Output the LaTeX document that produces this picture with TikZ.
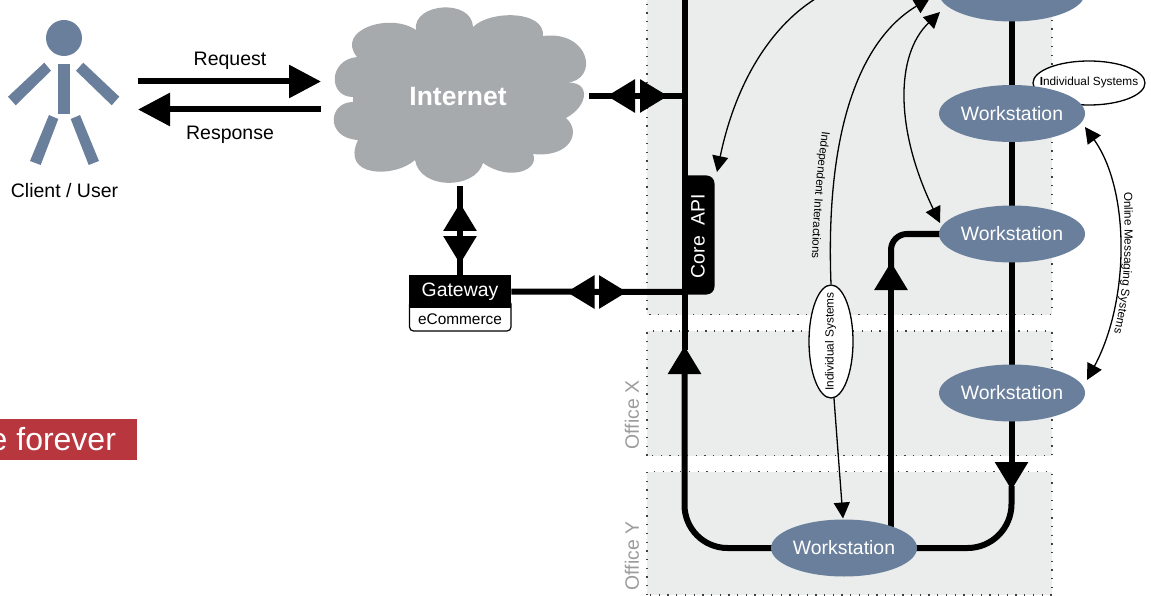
\documentclass[tikz,border=0pt]{standalone}
\usepackage{fontspec}
\setmainfont{Liberation Sans}
\usetikzlibrary{arrows.meta,shapes.geometric,decorations.text}
\definecolor{figblue}{HTML}{6A7F9C}
\definecolor{panelgray}{HTML}{EBEDEC}
\definecolor{cloudgray}{HTML}{A7AAAC}
\definecolor{officegray}{HTML}{9B9B9B}
\definecolor{bannerred}{HTML}{B8363D}
\pgfdeclarelayer{panels}
\pgfdeclarelayer{edges}
\pgfsetlayers{panels,edges,main}
\newcommand{\fsz}[1]{\fontsize{#1}{#1}\selectfont}
\newcommand{\wst}{\raisebox{-0.7pt}{Workstation}}
\tikzset{
  heavy/.style={line width=6pt,draw=black},
  fathead/.tip={Triangle[length=28pt,width=32pt]},
  thinhead/.tip={Triangle[length=16pt,width=16pt]},
  thinline/.style={line width=1.3pt,draw=black},
  wstation/.style={ellipse,fill=figblue,text=white,inner sep=0pt,minimum width=146pt,minimum height=57pt,font=\fsz{19.4}},
  callout/.style={ellipse,draw=black,fill=white,line width=1.3pt,inner sep=0pt},
  calltext/.style={inner sep=0pt,font=\fsz{11.8}},
  panelbox/.style={fill=panelgray},
  dotline/.style={draw=black!75,line width=1.3pt,dash pattern=on 1.3pt off 7.4pt},
  lab/.style={inner sep=0pt,font=\fsz{19.5}},
  officelab/.style={inner sep=0pt,rotate=90,text=officegray,font=\fsz{19.4}},
  figpart/.style={fill=figblue},
}
\begin{document}
\begin{tikzpicture}[x=1pt,y=-1pt]
\useasboundingbox (0,0) rectangle (1151,596);
\clip (0,0) rectangle (1151,596);

% office panels
\begin{pgfonlayer}{panels}
  \fill[panelbox] (647,-5) rectangle (1052,314.5);
  \fill[panelbox] (647,331) rectangle (1052,455.5);
  \fill[panelbox] (647,471.5) rectangle (1052,595);
  \draw[dotline] (647,-5) -- (647,314.5) -- (1052,314.5) -- (1052,-5);
  \draw[dotline] (647,455.5) -- (647,331) -- (1052,331) -- (1052,455.5) -- cycle;
  \draw[dotline] (647,595) -- (647,471.5) -- (1052,471.5) -- (1052,595) -- cycle;
\end{pgfonlayer}

\node[officelab] (ofx) at (632,415) {Office X};
\node[officelab] (ofy) at (632,556) {Office Y};

% figure
\fill[figpart] (64,38) circle (18);
\fill[figpart] (58,64) rectangle (70,114);
\fill[figpart] (44.3,62.7) -- (51,70.7) -- (15.7,105.3) -- (8,96.7) -- cycle;
\fill[figpart] (83.3,62.7) -- (76,70.7) -- (111.7,105.3) -- (119.3,96.7) -- cycle;
\fill[figpart] (49,115) -- (58.3,119) -- (40.7,165) -- (30,161) -- cycle;
\fill[figpart] (80,115) -- (70.7,119) -- (88.7,165) -- (99,161) -- cycle;
\node[lab] (client) at (64.5,190.5) {Client / User};

% cloud
\fill[cloudgray] (416,30)
  .. controls (412,3) and (472,-2) .. (473,27)
  .. controls (490,10) and (545,10) .. (543,36)
  .. controls (590,30) and (600,80) .. (566,83)
  .. controls (590,80) and (590,105) .. (566,118)
  .. controls (582,132) and (570,158) .. (533,154)
  .. controls (540,170) and (510,182) .. (483,163)
  .. controls (475,190) and (420,190) .. (415,160)
  .. controls (395,178) and (340,178) .. (358,140)
  .. controls (325,138) and (328,102) .. (353,102)
  -- (353,97)
  .. controls (328,97) and (328,60) .. (357,57)
  .. controls (335,30) and (390,12) .. (416,30) -- cycle;
\node[inner sep=0pt,text=white,font=\fsz{26.5}\bfseries] (inet) at (458,97) {Internet};
\coordinate (inetE) at (589,96);
\coordinate (inetS) at (460,186);
\coordinate (inetWa) at (321,81.5);
\coordinate (inetWb) at (321,109.5);
\coordinate (userEa) at (138,81.5);
\coordinate (userEb) at (138,109.5);

\node[lab] (req) at (230,61) {Request};
\node[lab] (resp) at (230,135) {Response};

% banner
\fill[bannerred] (0,419) rectangle (137,460);
\node[anchor=base west,inner sep=0pt,text=white,font=\fsz{32}] (banner) at (-10.5,450) {e forever};

% gateway
\fill[white,draw=black,line width=1.2pt,rounded corners=4pt] (409.5,300) -- (409.5,331) -- (511,331) -- (511,300) -- cycle;
\node[fill=black,text=white,inner sep=0pt,minimum width=102.5pt,minimum height=33pt,font=\fsz{19.4}] (gw) at (460,291.5) {\raisebox{-2pt}{Gateway}};
\node[inner sep=0pt,font=\fsz{15.4}] (ec) at (460,319) {eCommerce};

% core api
\fill[black] (683,175.5) [rounded corners=8pt] -- (714.5,175.5) -- (714.5,294.5) [sharp corners] -- (683,294.5) -- cycle;
\node[rotate=90,text=white,inner sep=0pt,font=\fsz{19.4}] (core) at (698,236) {Core\ \ API};
\coordinate (coreA) at (684.5,96);
\coordinate (coreB) at (684.5,292);

% individual systems callouts
\node[callout,minimum width=112pt,minimum height=44pt] (indA) at (1089,83) {};
\node[calltext] (indAt) at (1089,82.5) {\textbf{I}ndividual Systems};
\node[callout,minimum width=44pt,minimum height=113pt] (indB) at (831,341.5) {};
\node[calltext,rotate=90] (indBt) at (830.5,341.5) {Individual Systems};

% workstations
\node[wstation] (wsA) at (1012,-7) {\wst};
\node[wstation] (wsB) at (1012,113.5) {\wst};
\node[wstation] (wsC) at (1012,234) {\wst};
\node[wstation] (wsD) at (1012,393) {\wst};
\node[wstation] (wsE) at (844,548) {\wst};

% thin connector ends
\coordinate (offTopA) at (820,-4);
\coordinate (coreTip) at (717,172);
\coordinate (wsAtipA) at (930,-2);
\coordinate (wsAtipB) at (940,12);
\coordinate (wsCtip) at (940,223);
\coordinate (wsBtip) at (1085,127);
\coordinate (wsDtip) at (1087,380);
\coordinate (wsEtip) at (843,518.5);

\begin{pgfonlayer}{edges}
  % request / response
  \draw[heavy,-{fathead[length=32pt]}] (userEa) -- (inetWa);
  \draw[heavy,-{fathead[length=32pt]}] (inetWb) -- (userEb);
  % internet - core
  \draw[heavy] (inetE) -- (coreA);
  \draw[heavy,-{fathead}] (636,96) -- (607,96);
  \draw[heavy,-{fathead}] (640,96) -- (668,96);
  % internet - gateway
  \draw[heavy] (inetS) -- (gw);
  \draw[heavy,-{fathead}] (460,231) -- (460,203);
  \draw[heavy,-{fathead}] (460,236) -- (460,264);
  % gateway - core
  \draw[heavy] (gw) -- (coreB);
  \draw[heavy,-{fathead}] (594.5,292) -- (566.5,292);
  \draw[heavy,-{fathead}] (599,292) -- (627,292);
  % backbone
  \draw[heavy,rounded corners=43pt,-{fathead}] (wsE.center) -- (684.5,548) -- (684.5,346);
  \draw[heavy] (684.5,350) -- (684.5,-5);
  \draw[heavy] (1011.5,-5) -- (1011.5,465);
  \draw[heavy,-{fathead}] (1011.5,462) -- (1011.5,490);
  \draw[heavy,rounded corners=44pt] (1011.5,486) -- (1011.5,548) -- (wsE.center);
  \draw[heavy,rounded corners=16pt] (wsC.center) -- (891,234) -- (891,270);
  \draw[heavy,-{fathead}] (891,528) -- (891,262);
  % thin
  \draw[thinline,-{thinhead}] (offTopA) .. controls (770,25) and (735,85) .. (coreTip);
  \draw[thinline,-{thinhead}] (indB.north) .. controls (825,130) and (860,40) .. (wsAtipA);
  \draw[thinline,{thinhead}-{thinhead}] (wsAtipB) .. controls (895,55) and (895,130) .. (wsCtip);
  \draw[thinline,{thinhead}-{thinhead}] (wsBtip) .. controls (1130,190) and (1130,300) .. (wsDtip);
  \draw[thinline,-{thinhead}] (indB.-87) -- (wsEtip);
\end{pgfonlayer}

% curved labels
\path[decorate,decoration={text along path,text={|\fsz{11.6}|Independent Interactions}}]
  (822,131) .. controls (817,170) and (813,210) .. (812,262);
\path[decorate,decoration={text along path,text={|\fsz{11.7}|Online Messaging Systems}}]
  (1124,192) .. controls (1125.5,250) and (1125.5,285) .. (1113,338);
\end{tikzpicture}
\end{document}
